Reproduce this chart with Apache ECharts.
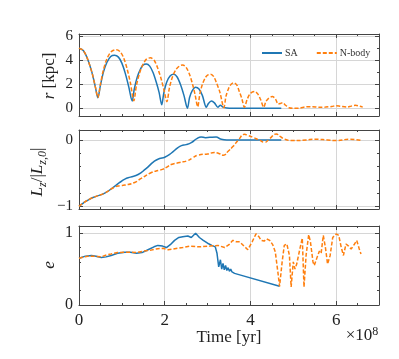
<!DOCTYPE html>
<html>
<head>
<meta charset="utf-8">
<script src="https://cdn.jsdelivr.net/npm/echarts@6/dist/echarts.min.js"></script>
<style>
  html, body { margin: 0; padding: 0; background: #fff; }
  #main { width: 399px; height: 359px; }
</style>
</head>
<body>
<div id="main"></div>
<script>
// time in units of 1e8 yr
const xMajor = [0, 2, 4, 6];
const xMinor = [0.5, 1, 1.5, 2.5, 3, 3.5, 4.5, 5, 5.5, 6.5];

const rMajor = [0, 2, 4, 6];
const rMinor = [1, 3, 5];
const lMajor = [-1, 0];
const lMinor = [-0.8, -0.6, -0.4, -0.2];
const eMajor = [0, 1];
const eMinor = [0.2, 0.4, 0.6, 0.8];

// r [kpc]
const rSA = [
  [0, 5.0], [0.1, 4.8], [0.2, 4.1], [0.3, 3.0], [0.38, 1.8], [0.44, 0.88],
  [0.5, 1.9], [0.57, 3.0], [0.65, 3.8], [0.74, 4.3], [0.83, 4.4], [0.92, 4.25], [1.0, 3.75], [1.08, 2.9], [1.16, 1.8], [1.24, 0.6],
  [1.29, 1.6], [1.36, 2.6], [1.44, 3.3], [1.5, 3.6], [1.57, 3.67], [1.65, 3.5], [1.73, 2.95], [1.8, 2.2], [1.87, 1.3], [1.93, 0.3],
  [1.98, 1.3], [2.05, 2.2], [2.13, 2.7], [2.21, 2.83], [2.29, 2.6], [2.37, 1.95], [2.45, 1.05], [2.53, 0.0],
  [2.58, 0.9], [2.64, 1.45], [2.72, 1.75], [2.8, 1.6], [2.88, 1.05], [2.97, 0.08],
  [3.02, 0.4], [3.09, 0.6], [3.16, 0.45], [3.24, 0.08], [3.3, 0.25], [3.36, 0.1], [3.45, 0.03], [3.6, 0.01], [4.72, 0.0]
];
const rNB = [
  [0, 5.0], [0.1, 4.8], [0.2, 4.1], [0.3, 3.0], [0.38, 1.8], [0.44, 0.9],
  [0.5, 2.0], [0.57, 3.2], [0.65, 4.1], [0.75, 4.7], [0.87, 4.86], [0.96, 4.7], [1.04, 4.2], [1.12, 3.3], [1.2, 2.1], [1.28, 0.63],
  [1.34, 1.9], [1.42, 3.0], [1.5, 3.7], [1.58, 4.1], [1.67, 4.19], [1.76, 3.95], [1.84, 3.3], [1.92, 2.4], [1.99, 1.4], [2.05, 0.55],
  [2.11, 1.7], [2.18, 2.6], [2.26, 3.2], [2.34, 3.5], [2.42, 3.6], [2.5, 3.4], [2.58, 2.8], [2.65, 2.0], [2.71, 1.1], [2.77, 0.13],
  [2.82, 1.2], [2.88, 2.0], [2.95, 2.55], [3.0, 2.75], [3.07, 2.83], [3.14, 2.65], [3.21, 2.1], [3.29, 1.3], [3.38, 0.05],
  [3.43, 1.0], [3.49, 1.65], [3.55, 2.0], [3.61, 2.13], [3.68, 1.95], [3.74, 1.4], [3.8, 0.8], [3.86, 0.08],
  [3.92, 0.7], [3.98, 1.15], [4.04, 1.35], [4.1, 1.4], [4.17, 1.2], [4.24, 0.7], [4.31, 0.08],
  [4.36, 0.55], [4.43, 0.85], [4.51, 0.97], [4.58, 0.8], [4.65, 0.35], [4.7, 0.4], [4.75, 0.47], [4.82, 0.25], [4.9, 0.05],
  [5.0, 0.0], [5.15, 0.02], [5.3, 0.12], [5.45, 0.13], [5.6, 0.08], [5.75, 0.1], [5.9, 0.15], [6.0, 0.22], [6.1, 0.17],
  [6.25, 0.1], [6.35, 0.18], [6.45, 0.25], [6.55, 0.18], [6.62, 0.1]
];

// Lz / |Lz,0|
const lSA = [
  [0, -1.0], [0.1, -0.95], [0.25, -0.89], [0.4, -0.85], [0.6, -0.8], [0.83, -0.7], [0.95, -0.64], [1.07, -0.59],
  [1.2, -0.56], [1.38, -0.52], [1.55, -0.44], [1.76, -0.32], [1.88, -0.28], [2.0, -0.26], [2.15, -0.2], [2.3, -0.12],
  [2.39, -0.085], [2.5, -0.07], [2.62, -0.04], [2.75, 0.02], [2.85, 0.045], [2.95, 0.035], [3.05, 0.04], [3.2, 0.045],
  [3.3, 0.015], [3.45, 0.0], [4.72, 0.0]
];
const lNB = [
  [0, -1.0], [0.1, -0.95], [0.25, -0.89], [0.4, -0.85], [0.6, -0.8], [0.83, -0.71], [0.95, -0.69], [1.07, -0.68],
  [1.3, -0.64], [1.45, -0.58], [1.69, -0.49], [1.85, -0.46], [1.96, -0.44], [2.05, -0.41], [2.15, -0.37], [2.35, -0.34],
  [2.54, -0.31], [2.65, -0.27], [2.77, -0.23], [3.0, -0.21], [3.16, -0.19], [3.25, -0.2], [3.37, -0.23], [3.48, -0.17],
  [3.59, -0.1], [3.72, 0.0], [3.86, 0.085], [3.95, 0.065], [4.06, 0.04], [4.2, 0.0], [4.33, -0.035], [4.45, 0.02],
  [4.6, 0.09], [4.7, 0.05], [4.8, 0.01], [5.0, -0.01], [5.3, 0.0], [5.5, 0.01], [5.8, 0.0], [6.0, -0.01], [6.3, 0.01], [6.6, -0.01]
];

// eccentricity
const eSA = [
  [0, 0.65], [0.15, 0.68], [0.29, 0.69], [0.4, 0.68], [0.52, 0.66], [0.63, 0.67], [0.75, 0.69], [0.9, 0.72], [1.07, 0.735],
  [1.2, 0.735], [1.34, 0.72], [1.47, 0.73], [1.61, 0.77], [1.75, 0.81], [1.84, 0.83], [1.95, 0.82], [2.04, 0.8], [2.13, 0.84],
  [2.23, 0.9], [2.33, 0.94], [2.42, 0.95], [2.54, 0.96], [2.62, 0.94], [2.72, 1.0], [2.81, 0.94], [2.9, 0.9], [3.0, 0.86],
  [3.1, 0.83], [3.18, 0.81], [3.22, 0.72], [3.26, 0.53], [3.3, 0.63], [3.33, 0.5], [3.36, 0.58], [3.39, 0.49], [3.42, 0.55],
  [3.45, 0.48], [3.48, 0.52], [3.51, 0.47], [3.54, 0.5], [3.57, 0.46], [3.6, 0.47], [3.63, 0.44], [3.66, 0.45], [3.69, 0.43],
  [3.72, 0.435], [4.68, 0.26]
];
const eNB = [
  [0, 0.65], [0.2, 0.68], [0.35, 0.68], [0.52, 0.67], [0.65, 0.7], [0.75, 0.71], [0.9, 0.73], [1.07, 0.735], [1.2, 0.735],
  [1.34, 0.73], [1.5, 0.75], [1.65, 0.76], [1.8, 0.78], [1.96, 0.79], [2.08, 0.77], [2.2, 0.78], [2.42, 0.8], [2.6, 0.82],
  [2.81, 0.81], [3.05, 0.82], [3.24, 0.83], [3.4, 0.8], [3.5, 0.84], [3.59, 0.9], [3.67, 0.88], [3.75, 0.88], [3.85, 0.82],
  [3.94, 0.77], [4.04, 0.88], [4.13, 0.99], [4.2, 0.95], [4.25, 0.9], [4.32, 0.89], [4.38, 0.92], [4.45, 0.9], [4.52, 0.84],
  [4.58, 0.74], [4.64, 0.46], [4.68, 0.26], [4.74, 0.6], [4.79, 0.83], [4.85, 0.85], [4.91, 0.69], [4.95, 0.25], [5.0, 0.6],
  [5.04, 0.5], [5.08, 0.57], [5.12, 0.55], [5.16, 0.8], [5.21, 0.93], [5.25, 0.25], [5.3, 0.7], [5.36, 0.98], [5.4, 0.88],
  [5.46, 0.6], [5.49, 0.55], [5.53, 0.62], [5.57, 0.69], [5.61, 0.75], [5.65, 0.72], [5.7, 0.97], [5.75, 0.8], [5.8, 0.57],
  [5.86, 0.69], [5.92, 0.94], [6.0, 0.99], [6.06, 0.97], [6.12, 0.8], [6.17, 0.69], [6.23, 0.85], [6.29, 0.82], [6.35, 0.78],
  [6.43, 0.85], [6.48, 0.9], [6.54, 0.78], [6.58, 0.71]
];

const FONT = 'Liberation Serif';
const AX = '#444';
const GRID = '#d6d6d6';
const BLUE = '#1f77b4';
const ORANGE = '#ff7f0e';

const grids = [
  { left: 79, top: 34, width: 300, height: 82 },
  { left: 79, top: 130, width: 300, height: 79 },
  { left: 79, top: 226, width: 300, height: 79 }
];
const yConf = [
  { min: -0.64, max: 6.17, major: rMajor, minor: rMinor, size: 15 },
  { min: -1.04, max: 0.15, major: lMajor, minor: lMinor, size: 15 },
  { min: 0, max: 1.1, major: eMajor, minor: eMinor, size: 16 }
];

function tick(vals, len, line) {
  return {
    axisLine: { show: line, onZero: false, lineStyle: { color: AX, width: 1 } },
    axisTick: { show: true, inside: true, length: len, customValues: vals, lineStyle: { color: AX, width: 1 } }
  };
}

const xAxis = [];
const yAxis = [];
grids.forEach(function (g, gi) {
  const xb = { type: 'value', gridIndex: gi, min: 0, max: 7, axisLabel: { show: false }, splitLine: { show: false } };
  xAxis.push(Object.assign({}, xb, tick(xMajor, 4, true), {
    position: 'bottom',
    axisLabel: { show: gi === 2, customValues: xMajor, margin: 7, fontFamily: FONT, fontSize: 17, color: '#222' },
    splitLine: { show: true, lineStyle: { color: GRID, width: 1 } }
  }));
  xAxis.push(Object.assign({}, xb, tick(xMinor, 2, false), { position: 'bottom' }));
  xAxis.push(Object.assign({}, xb, tick(xMajor, 4, true), { position: 'top' }));
  xAxis.push(Object.assign({}, xb, tick(xMinor, 2, false), { position: 'top' }));

  const c = yConf[gi];
  const yb = { type: 'value', gridIndex: gi, min: c.min, max: c.max, axisLabel: { show: false }, splitLine: { show: false } };
  yAxis.push(Object.assign({}, yb, tick(c.major, 4, true), {
    position: 'left',
    axisLabel: {
      show: true, customValues: c.major, margin: 6, fontFamily: FONT, fontSize: c.size, color: '#222',
      formatter: function (v) { return v < 0 ? '\u2212' + Math.abs(v) : String(v); }
    },
    splitLine: { show: true, lineStyle: { color: GRID, width: 1 } }
  }));
  yAxis.push(Object.assign({}, yb, tick(c.minor, 2, false), { position: 'left' }));
  yAxis.push(Object.assign({}, yb, tick(c.major, 4, true), { position: 'right' }));
  yAxis.push(Object.assign({}, yb, tick(c.minor, 2, false), { position: 'right' }));
});

function line(name, data, gi, color, dashed, smooth) {
  return {
    name: name, type: 'line', data: data, xAxisIndex: gi * 4, yAxisIndex: gi * 4,
    showSymbol: false, symbol: 'none', smooth: smooth, animation: false,
    lineStyle: { color: color, width: 1.5, type: dashed ? [4, 2] : 'solid' },
    itemStyle: { color: color }
  };
}

const chart = echarts.init(document.getElementById('main'));
chart.setOption({
  animation: false,
  grid: grids,
  xAxis: xAxis,
  yAxis: yAxis,
  legend: {
    data: ['SA', 'N-body'], left: 256, top: 43, itemWidth: 20, itemHeight: 10, itemGap: 18,
    itemStyle: { opacity: 0, borderWidth: 0 },
    textStyle: { fontFamily: FONT, fontSize: 10, color: '#333', padding: [0, 0, 0, -2] }
  },
  series: [
    line('SA', rSA, 0, BLUE, false, 0.3),
    line('N-body', rNB, 0, ORANGE, true, 0.3),
    line('SA', lSA, 1, BLUE, false, 0.5),
    line('N-body', lNB, 1, ORANGE, true, 0.5),
    line('SA', eSA, 2, BLUE, false, false),
    line('N-body', eNB, 2, ORANGE, true, false)
  ],
  graphic: [
    { type: 'text', x: 50, y: 76, rotation: Math.PI / 2,
      style: { text: '{i|r} [kpc]', align: 'center', verticalAlign: 'middle', fontFamily: FONT, fontSize: 17, fill: '#222',
        rich: { i: { fontFamily: FONT, fontStyle: 'italic', fontSize: 17 } } } },
    { type: 'text', x: 38, y: 172, rotation: Math.PI / 2,
      style: { text: '{i|L}{s|z}{n|/|}{i|L}{s|z,0}{n||}', align: 'center', verticalAlign: 'middle', fontFamily: FONT, fontSize: 17, fill: '#222',
        rich: {
          i: { fontFamily: FONT, fontStyle: 'italic', fontSize: 17 },
          s: { fontFamily: FONT, fontStyle: 'italic', fontSize: 12, padding: [9, 0, 0, 0] },
          n: { fontFamily: FONT, fontSize: 17 }
        } } },
    { type: 'text', x: 50, y: 265, rotation: Math.PI / 2,
      style: { text: 'e', align: 'center', verticalAlign: 'middle', fontFamily: FONT, fontStyle: 'italic', fontSize: 17, fill: '#222' } },
    { type: 'text', x: 229, y: 338,
      style: { text: 'Time [yr]', align: 'center', verticalAlign: 'middle', fontFamily: FONT, fontSize: 17, fill: '#222' } },
    { type: 'text', x: 362, y: 336,
      style: { text: '\u00d710{p|8}', align: 'center', verticalAlign: 'middle', fontFamily: FONT, fontSize: 17, fill: '#222',
        rich: { p: { fontFamily: FONT, fontSize: 12, padding: [0, 0, 9, 0] } } } }
  ]
});
</script>
</body>
</html>
